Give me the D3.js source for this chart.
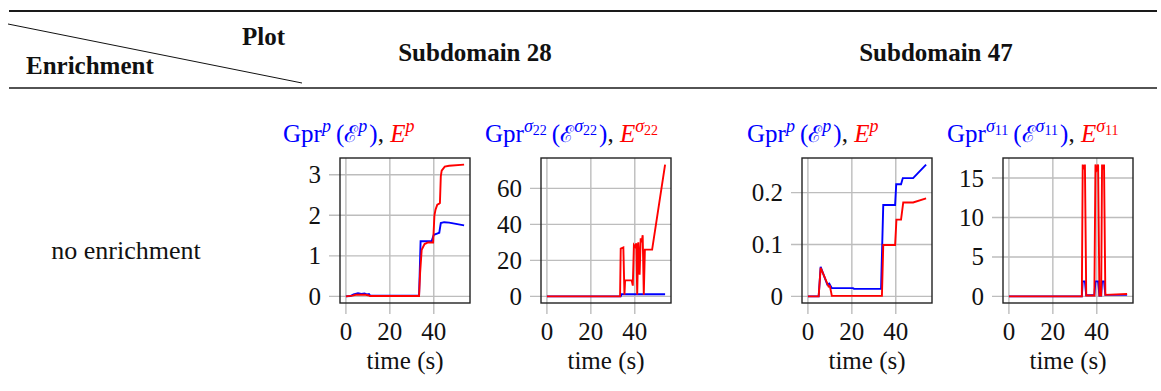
<!DOCTYPE html>
<html>
<head>
<meta charset="utf-8">
<script src="https://cdn.jsdelivr.net/npm/d3@7"></script>
<style>
  html, body { margin: 0; padding: 0; background: #fff; }
  svg { display: block; font-family: "Liberation Serif", "DejaVu Serif", serif; }
</style>
</head>
<body>
<svg id="fig" width="1161" height="391"></svg>
<script>
// ---- Data: [time (s), value] pairs for each curve ----
// Subdomain 28, pressure
const sd28PressureGpr = [[0,0],[2,0.01],[3.5,0.05],[5.5,0.08],[7,0.06],[8.5,0.07],[9.5,0.05],[10.5,0.06],[11,0.02],[33.3,0.02],[34,1.36],[39,1.36],[40,1.52],[41.5,1.55],[42.5,1.57],[43.2,1.81],[44.7,1.83],[47,1.82],[53.8,1.75]];
const sd28PressureErr = [[0,0],[3,0.02],[4.5,0.04],[7,0.04],[9,0.04],[10,0.03],[11,0.01],[33.3,0.01],[33.8,0.6],[34.5,1.15],[35.8,1.29],[37.4,1.33],[39.7,1.33],[40.3,2.0],[40.8,2.14],[41.6,2.26],[42.3,2.28],[42.8,2.3],[43.2,2.96],[43.6,3.1],[45,3.2],[47,3.22],[53.8,3.25]];
// Subdomain 28, sigma_22
const sd28Sigma22Gpr = [[0,0],[33.6,0],[34,1.2],[53.8,1.2]];
const sd28Sigma22Err = [[0,0],[33.3,0],[33.6,26.5],[34.8,27.2],[35.3,1],[35.6,8.9],[38.6,8.9],[39.1,6],[39.6,28.5],[40.2,27.5],[40.7,29.5],[41.1,1],[41.6,30],[42.2,12],[42.7,32.3],[43.1,30],[43.6,34],[44.1,1],[44.6,26],[47.9,26],[53.8,73.2]];
// Subdomain 47, pressure
const sd47PressureGpr = [[0,0],[4.9,0],[5.8,0.057],[7.3,0.040],[8.8,0.023],[9.7,0.025],[10.9,0.016],[20.5,0.016],[21,0.0145],[33.3,0.0145],[34.3,0.176],[39.7,0.176],[40.2,0.216],[42.4,0.216],[43.2,0.228],[47.9,0.228],[53.8,0.254]];
const sd47PressureErr = [[0,0],[4.9,0],[5.8,0.055],[7.5,0.038],[9.4,0.019],[10,0.02],[10.9,0.001],[33.7,0.001],[34.3,0.099],[39.7,0.099],[40.3,0.148],[42.4,0.148],[43.4,0.181],[47.9,0.181],[53.8,0.189]];
// Subdomain 47, sigma_11
const sd47Sigma11Gpr = [[0,0],[33.2,0],[33.6,1.9],[34.6,1.9],[35.2,0.15],[38.9,0.15],[39.4,1.9],[40.6,1.9],[41.2,0.1],[42,0.1],[42.4,1.9],[43.3,1.9],[43.9,0.2],[53.8,0.2]];
const sd47Sigma11Err = [[0,0],[33.2,0],[33.6,16.7],[34.1,16.1],[34.6,16.7],[35.2,0.12],[38.9,0.12],[39.4,16.7],[40,16.1],[40.6,16.7],[41.2,0.1],[42,0.1],[42.4,16.7],[42.9,16.1],[43.3,16.7],[43.9,0.2],[53.8,0.3]];

// ---- Tick values and labels ----
const timeTicks = [0, 20, 40];
const ticksSd28Pressure = [0, 1, 2, 3];
const ticksSd28Sigma22 = [0, 20, 40, 60];
const ticksSd47Pressure = [0, 0.1, 0.2];
const ticksSd47Sigma11 = [0, 5, 10, 15];

const columnHeaders = ["Subdomain 28", "Subdomain 47"];
const rowLabels = ["no enrichment"];
const cornerLabels = ["Plot", "Enrichment"];
const quantityTags = ["p", "σ22", "p", "σ11"];

const BLUE = "#0000ff", RED = "#ff0000";
const svg = d3.select("#fig");

// ---- Table rules and headers ----
svg.append("line").attr("x1", 9).attr("x2", 1157).attr("y1", 11).attr("y2", 11)
  .attr("stroke", "#1a1a1a").attr("stroke-width", 2.2);
svg.append("line").attr("x1", 9).attr("x2", 1157).attr("y1", 88).attr("y2", 88)
  .attr("stroke", "#1a1a1a").attr("stroke-width", 1.7);
svg.append("line").attr("x1", 8).attr("y1", 24).attr("x2", 302).attr("y2", 83)
  .attr("stroke", "#111").attr("stroke-width", 1);

const bold = { "font-weight": "bold", "font-size": "25px", fill: "#111" };
function txt(x, y, s, attrs, anchor) {
  const t = svg.append("text").attr("x", x).attr("y", y).text(s)
    .attr("text-anchor", anchor || "start");
  Object.entries(attrs).forEach(([k, v]) => t.attr(k, v));
  return t;
}
txt(242, 45, cornerLabels[0], bold);
txt(26, 74, cornerLabels[1], bold);
txt(475, 61, columnHeaders[0], bold, "middle");
txt(936, 61, columnHeaders[1], bold, "middle");
txt(126, 259, rowLabels[0], { "font-size": "26px", fill: "#111" }, "middle");

// ---- Panel title: Gpr^q(ℰ^q), E^q ----
function drawTitle(x, y, tag) {
  const t = svg.append("text").attr("x", x).attr("y", y).attr("font-size", "25px");
  const base = tag[0];          // "p" or "σ"
  const sub = tag.slice(1);     // "", "22", "11"
  function sup(color, gap) {
    t.append("tspan").attr("dy", -10).attr("font-size", "18px").attr("font-style", "italic")
      .attr("fill", color).text(base);
    if (sub) {
      t.append("tspan").attr("dy", 3).attr("font-size", "14px").attr("fill", color).text(sub);
      t.append("tspan").attr("dy", 7).attr("font-size", "25px").text(gap);
    } else {
      t.append("tspan").attr("dy", 10).attr("font-size", "25px").text(gap);
    }
  }
  t.append("tspan").attr("fill", BLUE).text("Gpr");
  sup(BLUE, "\u2009");
  t.append("tspan").attr("fill", BLUE).text("(");
  t.append("tspan").attr("fill", BLUE).attr("font-family", "DejaVu Serif").attr("font-size", "23px").text("ℰ");
  sup(BLUE, "\u200a");
  t.append("tspan").attr("fill", BLUE).text(")");
  t.append("tspan").attr("fill", "#111").text(", ");
  t.append("tspan").attr("fill", RED).attr("font-style", "italic").text("E");
  sup(RED, "");
}

// ---- One small time plot ----
function drawPanel(cfg) {
  const W = 130, H = 145, top = 158, left = cfg.left;
  const all = cfg.gpr.concat(cfg.err);
  const [x0, x1] = d3.extent(all, d => d[0]);
  const [y0, y1] = d3.extent(all, d => d[1]);
  const ex = (x1 - x0) * 0.05, ey = (y1 - y0) * 0.05;
  const x = d3.scaleLinear().domain([x0 - ex, x1 + ex]).range([left, left + W]);
  const y = d3.scaleLinear().domain([y0 - ey, y1 + ey]).range([top + H, top]);
  const g = svg.append("g");
  const grid = "#bdbdbd";

  // grid + outside ticks
  cfg.yTicks.forEach(v => {
    g.append("line").attr("x1", left - 11).attr("x2", left + W)
      .attr("y1", y(v)).attr("y2", y(v)).attr("stroke", grid).attr("stroke-width", 1.4);
    g.append("text").attr("x", left - 19).attr("y", y(v)).attr("dy", "0.34em")
      .attr("text-anchor", "end").attr("font-size", "25px").attr("fill", "#111").text(String(v));
  });
  timeTicks.forEach(v => {
    g.append("line").attr("x1", x(v)).attr("x2", x(v))
      .attr("y1", top).attr("y2", top + H + 11).attr("stroke", grid).attr("stroke-width", 1.4);
    g.append("text").attr("x", x(v)).attr("y", top + H + 37)
      .attr("text-anchor", "middle").attr("font-size", "25px").attr("fill", "#111").text(String(v));
  });
  g.append("text").attr("x", left + W / 2).attr("y", top + H + 66)
    .attr("text-anchor", "middle").attr("font-size", "25px").attr("fill", "#111").text("time (s)");

  // curves, clipped to the axis box
  const clipId = "clip" + cfg.id;
  svg.append("clipPath").attr("id", clipId).append("rect")
    .attr("x", left).attr("y", top).attr("width", W).attr("height", H);
  const line = d3.line().x(d => x(d[0])).y(d => y(d[1]));
  const curves = g.append("g").attr("clip-path", `url(#${clipId})`);
  curves.append("path").attr("d", line(cfg.gpr)).attr("fill", "none")
    .attr("stroke", BLUE).attr("stroke-width", 1.9);
  curves.append("path").attr("d", line(cfg.err)).attr("fill", "none")
    .attr("stroke", RED).attr("stroke-width", 1.9);

  // frame
  g.append("rect").attr("x", left).attr("y", top).attr("width", W).attr("height", H)
    .attr("fill", "none").attr("stroke", "#222").attr("stroke-width", 1.4);

  drawTitle(cfg.titleX, 142, cfg.tag);
}

const panels = [
  { id: 0, left: 340, titleX: 283, tag: quantityTags[0], gpr: sd28PressureGpr, err: sd28PressureErr, yTicks: ticksSd28Pressure },
  { id: 1, left: 541, titleX: 485, tag: quantityTags[1], gpr: sd28Sigma22Gpr, err: sd28Sigma22Err, yTicks: ticksSd28Sigma22 },
  { id: 2, left: 802, titleX: 747, tag: quantityTags[2], gpr: sd47PressureGpr, err: sd47PressureErr, yTicks: ticksSd47Pressure },
  { id: 3, left: 1003, titleX: 947, tag: quantityTags[3], gpr: sd47Sigma11Gpr, err: sd47Sigma11Err, yTicks: ticksSd47Sigma11 }
];
panels.forEach(drawPanel);
</script>
</body>
</html>
